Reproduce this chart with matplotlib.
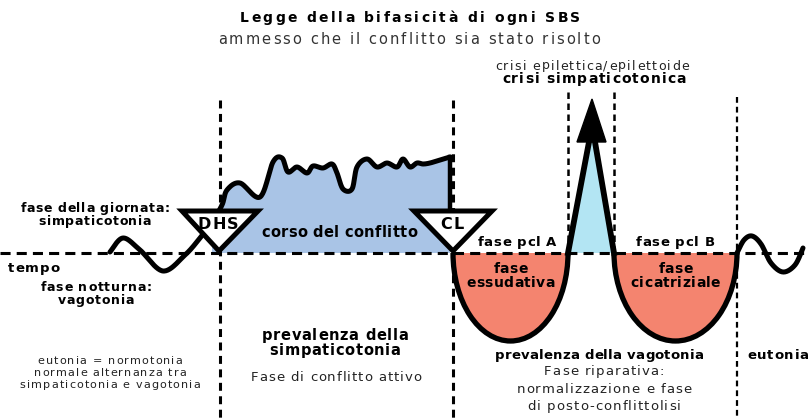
import numpy as np
import matplotlib
matplotlib.use("Agg")
import matplotlib.pyplot as plt
from matplotlib.patches import Polygon, Ellipse, Arc, Rectangle
from matplotlib.font_manager import findfont, FontProperties
from matplotlib.ft2font import FT2Font
try:
    from matplotlib.ft2font import LoadFlags
    NO_HINT = LoadFlags.NO_HINTING
except ImportError:
    from matplotlib.ft2font import LOAD_NO_HINTING as NO_HINT

# diagram geometry, in pixel units of the 809x418 picture
baseline_y = 253
vlines_x = [220, 453, 568, 614, 737]
vlines_top = [100, 100, 92, 92, 97]
vlines_bottom = [418, 418, 253, 253, 418]
vlines_width = [2.2, 2.2, 1.8, 1.8, 1.6]

wave_left_x = [110, 123, 140, 163, 185, 200, 212]
wave_left_y = [252, 238, 250, 271, 255, 238, 222]

conflict_x = [222, 227, 240, 260, 273, 282, 288, 297, 307, 313, 323, 332, 337,
              343, 352, 357, 367, 377, 387, 397, 403, 410, 417, 423, 430, 440, 450]
conflict_y = [205, 190, 183, 197, 162, 158, 172, 167, 173, 166, 168, 164, 173,
              189, 189, 167, 159, 167, 163, 167, 159, 167, 163, 164, 163, 160, 157]

wave_right_x = [737, 744, 752, 761, 771, 783, 795, 803]
wave_right_y = [253, 240, 236, 244, 263, 272, 265, 248]

# the two vagotonic troughs (centre x, half width, depth)
troughs = [(510.5, 57.5, 88), (675.5, 61.5, 88)]
trough_labels = ["fase\nessudativa", "fase\ncicatriziale"]

# epileptic crisis spike
spike_left_x = [568, 589]
spike_right_x = [595, 614]
spike_top = 142
arrow_head_x = [577, 606, 592]
arrow_head_y = [142, 142, 99]

# DHS and CL triangles
tri_left = [182, 414]
tri_right = [258, 492]
tri_apex = [219, 453]
tri_top = 211
tri_labels = ["DHS", "CL"]

blue = "#a9c4e6"
red = "#f4846f"
lightblue = "#b3e5f3"

DPI = 100
_fonts = {}


def advance(ch, size, bold):
    key = bold
    if key not in _fonts:
        prop = FontProperties(family="DejaVu Sans", weight="bold" if bold else "normal")
        _fonts[key] = FT2Font(findfont(prop))
    f = _fonts[key]
    f.set_size(size, DPI)
    g = f.load_char(ord(ch), flags=NO_HINT)
    return g.linearHoriAdvance / 65536.0


def sp_text(ax, x, y, s, size, bold=False, track=0.0, color="black", ha="center",
            ls=1.2, z=5):
    # letter-spaced text, y is the vertical centre of the block
    em = size * DPI / 72.0
    lines = s.split("\n")
    step = ls * em
    for i, line in enumerate(lines):
        advs = [advance(c, size, bold) for c in line]
        total = sum(advs) + track * (len(line) - 1)
        x0 = x - total / 2 if ha == "center" else x
        base = y - (len(lines) - 1) * step / 2 + i * step + 0.36 * em
        pos = x0
        for c, a in zip(line, advs):
            if c != " ":
                ax.text(pos, base, c, ha="left", va="baseline", fontsize=size,
                        fontweight="bold" if bold else "normal", color=color, zorder=z)
            pos += a + track


def smooth(xs, ys, n=24):
    # catmull-rom through the control points, just for drawing
    pts = np.column_stack([xs, ys]).astype(float)
    p = np.vstack([pts[0], pts, pts[-1]])
    out = []
    t = np.linspace(0, 1, n, endpoint=False)[:, None]
    for i in range(1, len(p) - 2):
        p0, p1, p2, p3 = p[i - 1], p[i], p[i + 1], p[i + 2]
        seg = 0.5 * (2 * p1 + (-p0 + p2) * t + (2 * p0 - 5 * p1 + 4 * p2 - p3) * t ** 2
                     + (-p0 + 3 * p1 - 3 * p2 + p3) * t ** 3)
        out.append(seg)
    out.append(p[-2][None])
    return np.vstack(out)


fig = plt.figure(figsize=(8.09, 4.18), dpi=DPI)
ax = fig.add_axes([0, 0, 1, 1])
ax.set_xlim(0, 809)
ax.set_ylim(418, 0)
ax.axis("off")

# blue area of the conflict
top = smooth(wave_left_x + conflict_x, wave_left_y + conflict_y)
blue_pts = top[top[:, 0] >= 212]
blue_poly = np.vstack([[212, baseline_y], blue_pts, [450, baseline_y]])
ax.add_patch(Polygon(blue_poly, closed=True, facecolor=blue, edgecolor="none", zorder=1))
ax.plot(top[:, 0], top[:, 1], color="black", lw=3.6, solid_capstyle="round", zorder=3)
ax.plot([450, 450], [conflict_y[-1], tri_top], color="black", lw=3.2, zorder=3)

# troughs
for (cx, hw, d), lab in zip(troughs, trough_labels):
    clip = Rectangle((cx - hw - 5, baseline_y), 2 * hw + 10, d + 10, transform=ax.transData)
    e = Ellipse((cx, baseline_y), 2 * hw, 2 * d, facecolor=red, edgecolor="none", zorder=1)
    ax.add_patch(e)
    e.set_clip_path(clip)
    ax.add_patch(Arc((cx, baseline_y), 2 * hw, 2 * d, theta1=0, theta2=180,
                     color="black", lw=3.8, zorder=3))
    sp_text(ax, cx, baseline_y + 22, lab, 10, bold=True, track=0.4, ls=1.05)

# spike
ax.add_patch(Polygon([[spike_left_x[0], baseline_y], [spike_left_x[1], spike_top],
                      [spike_right_x[0], spike_top], [spike_right_x[1], baseline_y]],
                     closed=True, facecolor=lightblue, edgecolor="none", zorder=1))
ax.plot(spike_left_x, [baseline_y, spike_top], color="black", lw=4.2, zorder=3)
ax.plot(spike_right_x, [spike_top, baseline_y], color="black", lw=4.2, zorder=3)
ax.add_patch(Polygon(np.column_stack([arrow_head_x, arrow_head_y]), closed=True,
                     facecolor="black", edgecolor="black", lw=1, zorder=3))

# right wave
rw = smooth(wave_right_x, wave_right_y)
ax.plot(rw[:, 0], rw[:, 1], color="black", lw=3.6, solid_capstyle="round", zorder=3)

# dashed lines
ax.plot([0, 809], [baseline_y, baseline_y], color="black", lw=2.2,
        linestyle=(0, (3.3, 2.0)), zorder=2)
for x, y0, y1, w in zip(vlines_x, vlines_top, vlines_bottom, vlines_width):
    ax.plot([x, x], [y0, y1], color="black", lw=w, linestyle=(0, (2.6, 1.8)), zorder=2)

# triangles
for l, r, a, lab in zip(tri_left, tri_right, tri_apex, tri_labels):
    ax.add_patch(Polygon([[l, tri_top], [r, tri_top], [a, baseline_y - 2]], closed=True,
                         facecolor="white", edgecolor="black", lw=3.6, joinstyle="miter",
                         zorder=4))
    sp_text(ax, a - 1, tri_top + 12, lab, 11.5, bold=True, track=1.2)

# texts
sp_text(ax, 410, 17, "Legge della bifasicità di ogni SBS", 10, bold=True, track=2.4)
sp_text(ax, 409, 39, "ammesso che il conflitto sia stato risolto", 10.5, track=2.1,
        color="#333333")
sp_text(ax, 592, 65, "crisi epilettica/epilettoide", 9, track=1.3, color="#222222")
sp_text(ax, 594, 78, "crisi simpaticotonica", 10, bold=True, track=1.1)
sp_text(ax, 95, 214, "fase della giornata:\nsimpaticotonia", 9, bold=True, track=0.6,
        ls=1.05)
sp_text(ax, 8, 267, "tempo", 9.5, bold=True, track=1.0, ha="left")
sp_text(ax, 96, 293, "fase notturna:\nvagotonia", 9, bold=True, track=0.8, ls=1.05)
sp_text(ax, 339, 232, "corso del conflitto", 10.5, bold=True, track=0.35)
sp_text(ax, 517, 241, "fase pcl A", 9.5, bold=True, track=0.7)
sp_text(ax, 675, 241, "fase pcl B", 9.5, bold=True, track=0.7)
sp_text(ax, 335, 342, "prevalenza della\nsimpaticotonia", 10.5, bold=True, track=0.7,
        ls=1.05)
sp_text(ax, 336, 376, "Fase di conflitto attivo", 9.5, track=1.0, color="#222222")
sp_text(ax, 110, 372, "eutonia = normotonia\nnormale alternanza tra\nsimpaticotonia e vagotonia",
        8, track=1.15, ls=1.04, color="#222222")
sp_text(ax, 599, 354, "prevalenza della vagotonia", 9.5, bold=True, track=0.25)
sp_text(ax, 604, 388, "Fase riparativa:\nnormalizzazione e fase\ndi posto-conflittolisi",
        9.5, track=1.1, ls=1.33, color="#222222")
sp_text(ax, 778, 354, "eutonia", 9.5, bold=True, track=0.8)

fig.savefig("out.png", dpi=DPI)
